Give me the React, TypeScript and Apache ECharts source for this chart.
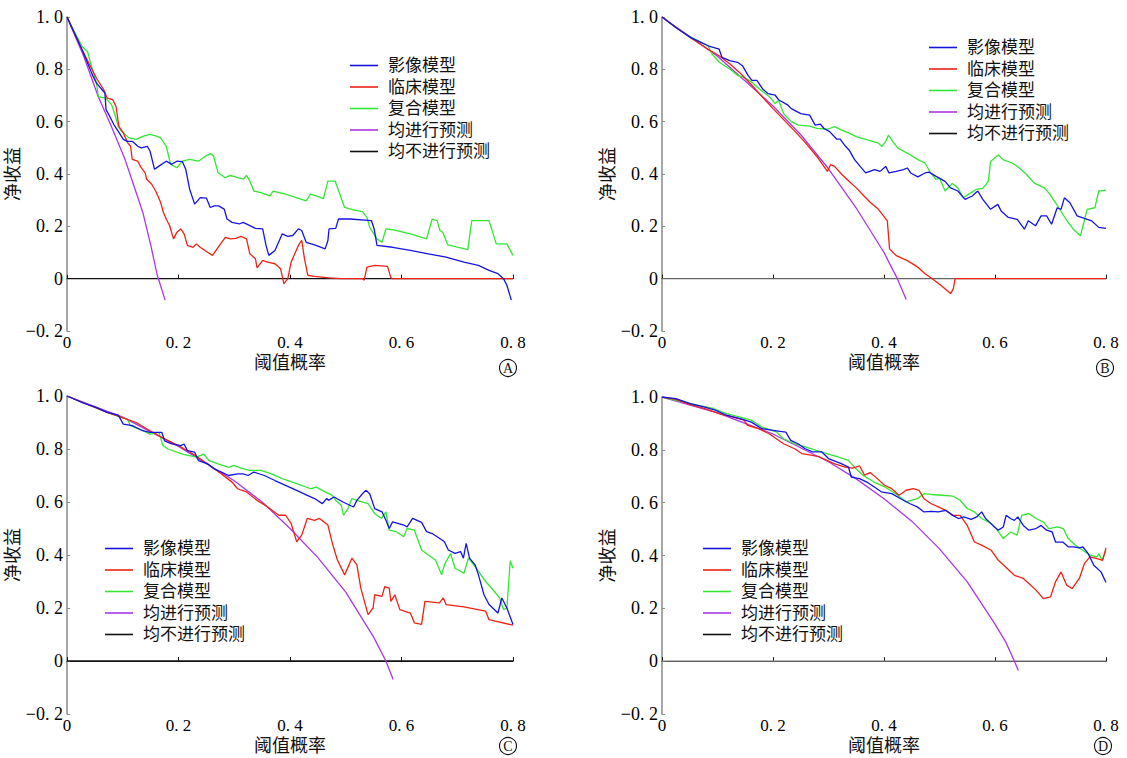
import React, { useEffect, useRef } from "react";
import * as echarts from "echarts";

// ---------- Data (threshold probability, standardized net benefit) ----------
const seriesNames = ["影像模型", "临床模型", "复合模型", "均进行预测", "均不进行预测"];
const xTicks = [0, 0.2, 0.4, 0.6, 0.8];
const yTicks = [-0.2, 0, 0.2, 0.4, 0.6, 0.8, 1.0];
const panelTags = ["A", "B", "C", "D"];

// Panel A
const A_image = [[0,1],[0.0275,0.873],[0.047,0.772],[0.053,0.747],[0.063,0.722],[0.068,0.709],[0.07,0.646],[0.075,0.627],[0.084,0.589],[0.092,0.563],[0.101,0.532],[0.108,0.525],[0.117,0.525],[0.127,0.506],[0.133,0.5],[0.144,0.506],[0.149,0.487],[0.157,0.418],[0.165,0.43],[0.178,0.449],[0.188,0.437],[0.197,0.449],[0.207,0.447],[0.213,0.418],[0.22,0.342],[0.229,0.285],[0.239,0.31],[0.25,0.308],[0.257,0.272],[0.264,0.278],[0.272,0.278],[0.282,0.266],[0.287,0.228],[0.296,0.215],[0.309,0.209],[0.316,0.215],[0.328,0.203],[0.338,0.192],[0.351,0.19],[0.357,0.127],[0.362,0.089],[0.373,0.108],[0.386,0.171],[0.396,0.162],[0.405,0.165],[0.415,0.19],[0.421,0.184],[0.429,0.139],[0.444,0.129],[0.463,0.114],[0.468,0.146],[0.47,0.19],[0.482,0.192],[0.487,0.228],[0.508,0.228],[0.546,0.222],[0.551,0.19],[0.556,0.127],[0.584,0.12],[0.616,0.108],[0.648,0.095],[0.68,0.082],[0.712,0.063],[0.738,0.051],[0.757,0.032],[0.773,0.019],[0.783,0.0],[0.789,-0.025],[0.797,-0.082]];
const A_clinical = [[0,1],[0.0275,0.873],[0.053,0.766],[0.066,0.722],[0.072,0.69],[0.082,0.684],[0.088,0.658],[0.093,0.582],[0.101,0.557],[0.109,0.519],[0.114,0.506],[0.117,0.456],[0.127,0.449],[0.133,0.424],[0.14,0.405],[0.143,0.38],[0.152,0.361],[0.159,0.335],[0.168,0.291],[0.173,0.253],[0.178,0.228],[0.184,0.203],[0.191,0.152],[0.197,0.177],[0.204,0.19],[0.21,0.171],[0.216,0.127],[0.226,0.12],[0.232,0.133],[0.239,0.12],[0.252,0.101],[0.261,0.089],[0.271,0.12],[0.284,0.158],[0.293,0.152],[0.303,0.154],[0.312,0.162],[0.322,0.152],[0.328,0.095],[0.338,0.076],[0.341,0.041],[0.351,0.07],[0.36,0.063],[0.373,0.057],[0.383,0.038],[0.389,-0.019],[0.396,0.0],[0.402,0.063],[0.415,0.127],[0.421,0.146],[0.426,0.076],[0.432,0.013],[0.444,0.009],[0.469,0.003],[0.492,0],[0.53,0],[0.533,-0.006],[0.538,0.044],[0.552,0.051],[0.575,0.047],[0.581,0.003],[0.584,0],[0.8,0]];
const A_combined = [[0,1],[0.015,0.937],[0.0275,0.886],[0.037,0.867],[0.044,0.81],[0.053,0.747],[0.056,0.696],[0.069,0.69],[0.08,0.665],[0.085,0.633],[0.092,0.582],[0.098,0.563],[0.111,0.538],[0.124,0.532],[0.136,0.544],[0.149,0.551],[0.162,0.544],[0.168,0.538],[0.178,0.506],[0.186,0.437],[0.197,0.424],[0.207,0.449],[0.22,0.456],[0.236,0.449],[0.248,0.468],[0.258,0.478],[0.263,0.468],[0.271,0.405],[0.284,0.386],[0.293,0.395],[0.306,0.386],[0.316,0.38],[0.322,0.395],[0.328,0.373],[0.335,0.335],[0.348,0.329],[0.364,0.316],[0.37,0.335],[0.392,0.323],[0.429,0.297],[0.437,0.323],[0.447,0.316],[0.46,0.306],[0.468,0.373],[0.481,0.373],[0.498,0.272],[0.514,0.263],[0.53,0.256],[0.538,0.234],[0.543,0.196],[0.556,0.152],[0.565,0.139],[0.572,0.19],[0.584,0.187],[0.616,0.171],[0.645,0.152],[0.655,0.228],[0.664,0.222],[0.669,0.184],[0.674,0.177],[0.683,0.129],[0.719,0.111],[0.726,0.222],[0.757,0.222],[0.77,0.133],[0.789,0.133],[0.8,0.089]];
const A_all = [[0,1],[0.03,0.85],[0.056,0.696],[0.08,0.58],[0.104,0.456],[0.12,0.355],[0.136,0.253],[0.15,0.13],[0.162,0.013],[0.176,-0.082]];
const A_none = [[0,0],[0.8,0]];

// Panel B
const B_image = [[0,1],[0.025,0.96],[0.051,0.922],[0.07,0.903],[0.083,0.89],[0.103,0.877],[0.108,0.846],[0.122,0.833],[0.136,0.827],[0.145,0.814],[0.155,0.777],[0.162,0.758],[0.171,0.758],[0.181,0.726],[0.191,0.707],[0.204,0.701],[0.21,0.684],[0.227,0.663],[0.233,0.65],[0.25,0.631],[0.266,0.625],[0.276,0.587],[0.285,0.591],[0.292,0.574],[0.302,0.562],[0.315,0.533],[0.321,0.533],[0.331,0.505],[0.337,0.492],[0.347,0.455],[0.357,0.429],[0.367,0.404],[0.383,0.417],[0.393,0.41],[0.403,0.429],[0.409,0.404],[0.422,0.41],[0.435,0.417],[0.442,0.423],[0.448,0.404],[0.461,0.389],[0.474,0.404],[0.481,0.407],[0.494,0.391],[0.51,0.372],[0.52,0.347],[0.533,0.335],[0.546,0.303],[0.559,0.316],[0.569,0.335],[0.578,0.303],[0.592,0.265],[0.605,0.284],[0.611,0.259],[0.624,0.234],[0.64,0.227],[0.653,0.189],[0.66,0.221],[0.673,0.202],[0.683,0.24],[0.693,0.24],[0.702,0.208],[0.712,0.271],[0.719,0.265],[0.725,0.309],[0.735,0.29],[0.748,0.24],[0.761,0.23],[0.774,0.221],[0.787,0.196],[0.8,0.192]];
const B_clinical = [[0,1],[0.025,0.96],[0.051,0.922],[0.083,0.877],[0.103,0.852],[0.122,0.821],[0.142,0.783],[0.162,0.739],[0.181,0.694],[0.2,0.65],[0.22,0.606],[0.24,0.562],[0.259,0.518],[0.279,0.467],[0.298,0.41],[0.304,0.436],[0.311,0.429],[0.324,0.398],[0.337,0.372],[0.35,0.347],[0.364,0.316],[0.376,0.29],[0.39,0.265],[0.406,0.221],[0.41,0.114],[0.422,0.088],[0.442,0.069],[0.461,0.044],[0.474,0.019],[0.487,0],[0.504,-0.028],[0.52,-0.057],[0.525,-0.038],[0.528,0],[0.8,0]];
const B_combined = [[0,1],[0.025,0.96],[0.051,0.924],[0.083,0.89],[0.09,0.859],[0.103,0.827],[0.122,0.801],[0.136,0.777],[0.149,0.768],[0.162,0.751],[0.175,0.726],[0.194,0.694],[0.204,0.669],[0.21,0.682],[0.219,0.631],[0.233,0.6],[0.246,0.587],[0.266,0.583],[0.279,0.574],[0.298,0.571],[0.311,0.581],[0.324,0.568],[0.337,0.556],[0.35,0.543],[0.37,0.53],[0.39,0.518],[0.396,0.505],[0.403,0.524],[0.408,0.549],[0.416,0.524],[0.425,0.499],[0.442,0.48],[0.461,0.455],[0.474,0.442],[0.484,0.404],[0.494,0.379],[0.5,0.385],[0.51,0.335],[0.523,0.364],[0.533,0.347],[0.543,0.309],[0.552,0.322],[0.566,0.341],[0.578,0.345],[0.588,0.372],[0.592,0.448],[0.606,0.473],[0.614,0.455],[0.631,0.442],[0.644,0.423],[0.657,0.398],[0.67,0.366],[0.689,0.347],[0.699,0.322],[0.709,0.29],[0.715,0.271],[0.728,0.227],[0.741,0.189],[0.754,0.164],[0.766,0.265],[0.78,0.271],[0.787,0.335],[0.8,0.338]];
const B_all = [[0,1],[0.1,0.85],[0.2,0.66],[0.25,0.55],[0.3,0.42],[0.35,0.27],[0.4,0.1],[0.424,0],[0.44,-0.08]];
const B_none = [[0,0],[0.8,0]];

// Panel C
const C_image = [[0,1],[0.0275,0.975],[0.053,0.956],[0.072,0.938],[0.092,0.928],[0.101,0.894],[0.117,0.888],[0.136,0.869],[0.149,0.863],[0.17,0.863],[0.175,0.831],[0.188,0.819],[0.204,0.813],[0.21,0.819],[0.216,0.794],[0.229,0.788],[0.236,0.756],[0.252,0.744],[0.264,0.725],[0.277,0.713],[0.29,0.7],[0.306,0.706],[0.316,0.706],[0.325,0.7],[0.335,0.713],[0.354,0.7],[0.373,0.681],[0.392,0.663],[0.412,0.644],[0.431,0.625],[0.444,0.613],[0.458,0.594],[0.466,0.613],[0.469,0.606],[0.479,0.619],[0.495,0.6],[0.514,0.581],[0.52,0.606],[0.53,0.631],[0.536,0.644],[0.543,0.631],[0.552,0.575],[0.565,0.563],[0.572,0.531],[0.578,0.5],[0.584,0.525],[0.604,0.513],[0.61,0.506],[0.62,0.538],[0.636,0.523],[0.645,0.488],[0.655,0.481],[0.668,0.463],[0.677,0.45],[0.684,0.419],[0.696,0.406],[0.706,0.413],[0.711,0.388],[0.716,0.444],[0.722,0.388],[0.732,0.363],[0.738,0.325],[0.748,0.25],[0.757,0.213],[0.773,0.181],[0.78,0.238],[0.789,0.2],[0.8,0.138]];
const C_clinical = [[0,1],[0.072,0.938],[0.098,0.919],[0.124,0.9],[0.149,0.869],[0.175,0.838],[0.2,0.813],[0.226,0.781],[0.252,0.744],[0.277,0.706],[0.296,0.675],[0.306,0.65],[0.322,0.638],[0.341,0.606],[0.36,0.581],[0.38,0.55],[0.392,0.55],[0.402,0.519],[0.412,0.45],[0.421,0.475],[0.431,0.538],[0.444,0.531],[0.453,0.538],[0.468,0.513],[0.476,0.444],[0.485,0.381],[0.498,0.325],[0.511,0.388],[0.52,0.363],[0.527,0.275],[0.54,0.175],[0.549,0.2],[0.552,0.25],[0.565,0.244],[0.57,0.281],[0.578,0.275],[0.581,0.225],[0.588,0.25],[0.597,0.194],[0.616,0.181],[0.623,0.144],[0.636,0.138],[0.642,0.225],[0.668,0.219],[0.675,0.238],[0.68,0.213],[0.712,0.204],[0.751,0.188],[0.757,0.156],[0.8,0.135]];
const C_combined = [[0,1],[0.072,0.938],[0.098,0.919],[0.108,0.913],[0.114,0.888],[0.136,0.869],[0.149,0.856],[0.165,0.863],[0.172,0.813],[0.181,0.8],[0.207,0.781],[0.232,0.769],[0.245,0.781],[0.255,0.756],[0.271,0.744],[0.29,0.731],[0.299,0.738],[0.312,0.728],[0.328,0.719],[0.348,0.719],[0.367,0.706],[0.386,0.688],[0.412,0.669],[0.437,0.65],[0.447,0.656],[0.463,0.638],[0.476,0.625],[0.482,0.606],[0.492,0.588],[0.496,0.55],[0.504,0.575],[0.511,0.613],[0.52,0.606],[0.54,0.594],[0.552,0.556],[0.564,0.538],[0.572,0.563],[0.578,0.494],[0.591,0.488],[0.604,0.469],[0.61,0.5],[0.623,0.494],[0.636,0.419],[0.648,0.4],[0.661,0.381],[0.672,0.325],[0.677,0.363],[0.688,0.406],[0.696,0.35],[0.712,0.331],[0.72,0.388],[0.732,0.356],[0.751,0.3],[0.764,0.269],[0.776,0.238],[0.783,0.194],[0.789,0.2],[0.795,0.378],[0.8,0.35]];
const C_all = [[0,1],[0.1,0.92],[0.2,0.81],[0.3,0.68],[0.35,0.6],[0.4,0.5],[0.45,0.39],[0.5,0.26],[0.55,0.09],[0.572,0],[0.585,-0.07]];
const C_none = [[0,0],[0.8,0]];

// Panel D
const D_image = [[0,1],[0.025,0.994],[0.051,0.975],[0.077,0.962],[0.096,0.95],[0.116,0.931],[0.141,0.918],[0.161,0.905],[0.18,0.88],[0.2,0.874],[0.213,0.87],[0.223,0.867],[0.232,0.836],[0.245,0.823],[0.258,0.804],[0.271,0.792],[0.288,0.792],[0.3,0.767],[0.323,0.748],[0.336,0.735],[0.341,0.697],[0.356,0.691],[0.369,0.678],[0.382,0.66],[0.395,0.641],[0.414,0.634],[0.43,0.615],[0.447,0.596],[0.46,0.584],[0.472,0.565],[0.485,0.567],[0.498,0.565],[0.511,0.571],[0.524,0.552],[0.534,0.54],[0.544,0.546],[0.557,0.537],[0.567,0.546],[0.576,0.565],[0.583,0.54],[0.596,0.514],[0.606,0.496],[0.615,0.508],[0.62,0.552],[0.628,0.54],[0.635,0.533],[0.641,0.546],[0.651,0.514],[0.661,0.496],[0.674,0.502],[0.683,0.514],[0.693,0.496],[0.703,0.489],[0.709,0.451],[0.722,0.451],[0.732,0.433],[0.742,0.433],[0.752,0.429],[0.758,0.433],[0.768,0.407],[0.778,0.363],[0.791,0.338],[0.8,0.298]];
const D_clinical = [[0,1],[0.025,0.991],[0.051,0.971],[0.077,0.956],[0.103,0.937],[0.128,0.924],[0.148,0.912],[0.154,0.893],[0.174,0.88],[0.193,0.861],[0.206,0.842],[0.219,0.823],[0.239,0.804],[0.252,0.786],[0.271,0.779],[0.284,0.773],[0.297,0.76],[0.31,0.748],[0.33,0.735],[0.343,0.731],[0.356,0.739],[0.365,0.704],[0.375,0.714],[0.388,0.691],[0.401,0.666],[0.414,0.653],[0.427,0.628],[0.44,0.647],[0.453,0.653],[0.463,0.647],[0.472,0.615],[0.485,0.596],[0.498,0.584],[0.511,0.571],[0.524,0.552],[0.537,0.552],[0.55,0.514],[0.563,0.451],[0.576,0.439],[0.593,0.42],[0.606,0.382],[0.622,0.351],[0.635,0.325],[0.651,0.313],[0.661,0.294],[0.674,0.269],[0.687,0.237],[0.7,0.243],[0.709,0.3],[0.719,0.338],[0.729,0.288],[0.739,0.275],[0.752,0.313],[0.761,0.369],[0.771,0.395],[0.784,0.388],[0.794,0.382],[0.8,0.429]];
const D_combined = [[0,1],[0.051,0.975],[0.09,0.958],[0.116,0.937],[0.141,0.924],[0.161,0.912],[0.18,0.886],[0.206,0.868],[0.219,0.842],[0.239,0.823],[0.258,0.811],[0.278,0.798],[0.297,0.786],[0.317,0.773],[0.336,0.76],[0.349,0.729],[0.362,0.704],[0.382,0.678],[0.401,0.66],[0.421,0.634],[0.44,0.603],[0.46,0.615],[0.472,0.634],[0.485,0.631],[0.505,0.628],[0.524,0.625],[0.537,0.609],[0.55,0.578],[0.563,0.565],[0.576,0.54],[0.593,0.521],[0.602,0.502],[0.615,0.464],[0.628,0.489],[0.64,0.477],[0.648,0.552],[0.661,0.559],[0.674,0.54],[0.687,0.527],[0.697,0.502],[0.713,0.508],[0.723,0.502],[0.732,0.464],[0.745,0.439],[0.758,0.42],[0.771,0.401],[0.784,0.395],[0.787,0.407],[0.793,0.382],[0.8,0.42]];
const D_all = [[0,1],[0.1,0.94],[0.2,0.86],[0.3,0.755],[0.35,0.69],[0.4,0.615],[0.45,0.53],[0.5,0.425],[0.55,0.3],[0.6,0.14],[0.62,0.07],[0.635,0],[0.642,-0.035]];
const D_none = [[0,0],[0.8,0]];

const panels = [
  { image: A_image, clinical: A_clinical, combined: A_combined, all: A_all, none: A_none },
  { image: B_image, clinical: B_clinical, combined: B_combined, all: B_all, none: B_none },
  { image: C_image, clinical: C_clinical, combined: C_combined, all: C_all, none: C_none },
  { image: D_image, clinical: D_clinical, combined: D_combined, all: D_all, none: D_none },
];

// ---------- Layout / styles ----------
const grids = [
  { left: 67, top: 17, width: 446, height: 314 },
  { left: 662, top: 17, width: 444, height: 314 },
  { left: 67, top: 396, width: 446, height: 318 },
  { left: 662, top: 397, width: 444, height: 317 },
];
const legendPos = [
  { left: 350, top: 57 },
  { left: 929, top: 39 },
  { left: 105, top: 540 },
  { left: 703, top: 540 },
];
const tagPos = [
  { x: 508, y: 368 },
  { x: 1105, y: 368 },
  { x: 508, y: 746 },
  { x: 1103, y: 746 },
];
const colors = { image: "#1515e0", clinical: "#ee2215", combined: "#33e633", all: "#a838e8" };
const noneColors = ["#111111", "#666666", "#111111", "#777777"];
// Latin font first (compact line metrics); CJK glyphs fall back to Noto Sans CJK SC
const CJK = "'Liberation Sans', 'Noto Sans CJK SC', sans-serif";
const SERIF = "'Liberation Serif', 'DejaVu Serif', serif";

const fmt = (v: number) => {
  if (Math.abs(v) < 1e-9) return "0";
  const s = Math.abs(v).toFixed(1).replace(".", ". ");
  return (v < 0 ? "−" : "") + s;
};

export default function App() {
  const ref = useRef<HTMLDivElement>(null);
  useEffect(() => {
    if (!ref.current) return;
    const chart = echarts.init(ref.current, undefined, { renderer: "svg" });
    const xAxis: any[] = [];
    const yAxis: any[] = [];
    const series: any[] = [];
    const legend: any[] = [];
    const graphic: any[] = [];
    panels.forEach((p, i) => {
      xAxis.push({
        gridIndex: i,
        type: "value",
        min: xTicks[0],
        max: xTicks[xTicks.length - 1],
        interval: 0.2,
        axisLine: { show: true, lineStyle: { color: "#1a1a1a", width: 1.2 } },
        axisTick: { show: true, inside: true, length: 4, lineStyle: { color: "#1a1a1a" } },
        splitLine: { show: false },
        axisLabel: { formatter: fmt, margin: 3, fontFamily: SERIF, fontSize: 17, lineHeight: 16, color: "#000" },
        name: "阈值概率",
        nameLocation: "middle",
        nameGap: 23,
        nameTextStyle: { fontFamily: CJK, fontSize: 18, lineHeight: 18, color: "#111" },
      });
      yAxis.push({
        gridIndex: i,
        type: "value",
        min: yTicks[0],
        max: yTicks[yTicks.length - 1],
        interval: 0.2,
        axisLine: { show: true, lineStyle: { color: "#8a8a8a", width: 1.5 } },
        axisTick: { show: true, inside: true, length: 3, lineStyle: { color: "#8a8a8a" } },
        splitLine: { show: false },
        axisLabel: { formatter: fmt, margin: 4, fontFamily: SERIF, fontSize: 18, lineHeight: 16, color: "#000" },
        name: "净收益",
        nameLocation: "middle",
        nameRotate: 90,
        nameGap: 39,
        nameTextStyle: { fontFamily: CJK, fontSize: 18, lineHeight: 18, color: "#111" },
      });
      const mk = (name: string, data: number[][], color: string, z: number) => ({
        type: "line",
        name,
        xAxisIndex: i,
        yAxisIndex: i,
        data,
        symbol: "none",
        showSymbol: false,
        lineStyle: { color, width: 1.3 },
        itemStyle: { color },
        z,
      });
      series.push(mk(seriesNames[4], p.none, noneColors[i], 1));
      series.push(mk(seriesNames[3], p.all, colors.all, 2));
      series.push(mk(seriesNames[2], p.combined, colors.combined, 3));
      series.push(mk(seriesNames[1], p.clinical, colors.clinical, 4));
      series.push(mk(seriesNames[0], p.image, colors.image, 5));
      legend.push({
        data: seriesNames,
        orient: "vertical",
        left: legendPos[i].left,
        top: legendPos[i].top,
        padding: 0,
        icon: "rect",
        itemWidth: 28,
        itemHeight: 1.6,
        itemGap: 4.5,
        selectedMode: false,
        textStyle: { fontFamily: CJK, fontSize: 17, color: "#111", lineHeight: 17, padding: [0, 0, 0, 5] },
      });
      graphic.push({
        type: "group",
        children: [
          {
            type: "circle",
            shape: { cx: tagPos[i].x, cy: tagPos[i].y, r: 8.5 },
            style: { fill: "none", stroke: "#111", lineWidth: 1.1 },
          },
          {
            type: "text",
            x: tagPos[i].x,
            y: tagPos[i].y + 0.5,
            style: {
              text: panelTags[i],
              fontFamily: SERIF,
              fontSize: 14,
              fill: "#111",
              align: "center",
              verticalAlign: "middle",
            },
          },
        ],
      });
    });
    chart.setOption({
      animation: false,
      backgroundColor: "#ffffff",
      grid: grids.map((g) => ({ ...g, containLabel: false })),
      xAxis,
      yAxis,
      legend,
      series,
      graphic,
    });
    return () => chart.dispose();
  }, []);
  return (
    <div
      ref={ref}
      style={{ position: "absolute", left: 0, top: 0, width: 1127, height: 758 }}
    />
  );
}
